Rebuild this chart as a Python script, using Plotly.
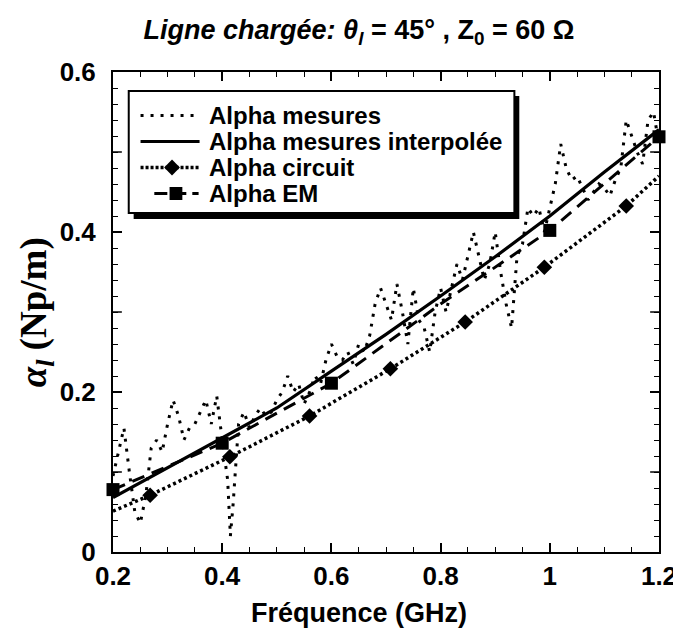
import plotly.graph_objects as go

# Alpha mesures (raw measurement, noisy)
f_mes = [0.20, 0.21, 0.22, 0.23, 0.24, 0.25, 0.26, 0.27, 0.28, 0.29,
         0.30, 0.31, 0.32, 0.33, 0.34, 0.35, 0.36, 0.37, 0.38, 0.39,
         0.40, 0.41, 0.415, 0.42, 0.43, 0.44, 0.45, 0.46, 0.47, 0.48,
         0.49, 0.50, 0.51, 0.52, 0.53, 0.54, 0.55, 0.56, 0.57, 0.58,
         0.59, 0.60, 0.61, 0.62, 0.63, 0.64, 0.65, 0.66, 0.67, 0.68,
         0.69, 0.70, 0.71, 0.72, 0.73, 0.74, 0.75, 0.76, 0.77, 0.78,
         0.79, 0.80, 0.81, 0.82, 0.83, 0.84, 0.85, 0.86, 0.87, 0.88,
         0.89, 0.90, 0.91, 0.92, 0.93, 0.94, 0.95, 0.96, 0.97, 0.98,
         0.99, 1.00, 1.01, 1.02, 1.03, 1.04, 1.05, 1.06, 1.07, 1.08,
         1.09, 1.10, 1.11, 1.12, 1.13, 1.14, 1.15, 1.16, 1.17, 1.18,
         1.19, 1.20]
a_mes = [0.095, 0.125, 0.155, 0.100, 0.050, 0.036, 0.070, 0.130, 0.140, 0.125,
         0.160, 0.190, 0.170, 0.140, 0.155, 0.160, 0.175, 0.190, 0.160, 0.195,
         0.140, 0.090, 0.020, 0.060, 0.160, 0.175, 0.155, 0.170, 0.180, 0.170,
         0.175, 0.190, 0.200, 0.220, 0.200, 0.210, 0.185, 0.200, 0.220, 0.210,
         0.240, 0.260, 0.245, 0.240, 0.250, 0.235, 0.260, 0.250, 0.270, 0.310,
         0.330, 0.310, 0.290, 0.335, 0.300, 0.260, 0.330, 0.290, 0.280, 0.250,
         0.300, 0.330, 0.300, 0.330, 0.360, 0.340, 0.370, 0.400, 0.370, 0.340,
         0.360, 0.400, 0.350, 0.310, 0.280, 0.370, 0.385, 0.430, 0.420, 0.430,
         0.400, 0.430, 0.460, 0.510, 0.480, 0.465, 0.470, 0.455, 0.440, 0.450,
         0.460, 0.455, 0.445, 0.465, 0.480, 0.540, 0.520, 0.500, 0.485, 0.540,
         0.550, 0.510]

# Alpha mesures interpolée
f_int = [0.2, 0.3, 0.4, 0.5, 0.6, 0.7, 0.8, 0.9, 1.0, 1.1, 1.2]
a_int = [0.068, 0.105, 0.142, 0.180, 0.226, 0.272, 0.320, 0.369, 0.420, 0.475, 0.528]

# Alpha circuit
f_cir = [0.2, 0.268, 0.414, 0.56, 0.708, 0.845, 0.99, 1.14, 1.2]
a_cir = [0.051, 0.071, 0.119, 0.170, 0.229, 0.2875, 0.356, 0.4325, 0.470]
cir_marker = [0, 12, 12, 12, 12, 12, 12, 12, 0]

# Alpha EM
f_em = [0.2, 0.4, 0.6, 0.8, 1.0, 1.2]
a_em = [0.078, 0.136, 0.211, 0.310, 0.402, 0.519]
em_marker = [13, 13, 13, 0, 13, 13]

legend_names = ["Alpha mesures", "Alpha mesures interpolée", "Alpha circuit", "Alpha EM"]
y_mid_ticks = [0.1, 0.3, 0.5]

W, H = 681, 628
L, R, T, B = 105, 21, 64, 84
pw, ph = W - L - R, H - T - B

def px(x):
    return (x - L) / pw

def py(y):
    return (H - B - y) / ph

sans = "Liberation Sans"

fig = go.Figure()
fig.add_trace(go.Scatter(
    x=f_mes, y=a_mes, mode="lines", name=legend_names[0],
    line=dict(color="black", width=3, dash="3px,7px")
))
fig.add_trace(go.Scatter(
    x=f_int, y=a_int, mode="lines", name=legend_names[1],
    line=dict(color="black", width=3.2)
))
fig.add_trace(go.Scatter(
    x=f_cir, y=a_cir, mode="lines+markers", name=legend_names[2],
    line=dict(color="black", width=3.5, dash="3px,3px"),
    marker=dict(symbol="diamond", size=cir_marker, color="black", opacity=1,
                line=dict(width=0)),
    cliponaxis=False
))
fig.add_trace(go.Scatter(
    x=f_em, y=a_em, mode="lines+markers", name=legend_names[3],
    line=dict(color="black", width=3, dash="13px,8px"),
    marker=dict(symbol="square", size=em_marker, color="black", opacity=1,
                line=dict(width=0)),
    cliponaxis=False
))

axis_common = dict(
    showline=True, linecolor="black", linewidth=2, mirror="allticks",
    ticks="inside", ticklen=9, tickwidth=1.5, tickcolor="black",
    showgrid=False, zeroline=False,
    tickfont=dict(family=sans, size=26, color="black", weight="bold"),
)

fig.update_xaxes(range=[0.2, 1.2], tickmode="linear", tick0=0.2, dtick=0.2,
                 ticklabelstandoff=0,
                 minor=dict(ticks="inside", dtick=0.05, ticklen=5,
                            tickwidth=1.2, tickcolor="black"),
                 **axis_common)
fig.update_yaxes(range=[0, 0.6], tickmode="linear", tick0=0, dtick=0.2,
                 ticklabelstandoff=10,
                 minor=dict(ticks="inside", dtick=0.02, ticklen=5,
                            tickwidth=1.2, tickcolor="black"),
                 **axis_common)

# longer unlabelled ticks at 0.1, 0.3, 0.5 on both sides
for yv in y_mid_ticks:
    for x0, x1 in [(0, 9 / pw), (1 - 9 / pw, 1)]:
        fig.add_shape(type="line", xref="paper", yref="y",
                      x0=x0, x1=x1, y0=yv, y1=yv,
                      line=dict(color="black", width=1.5), layer="above")

# hand-drawn legend box with drop shadow
bx0, bx1, by0, by1 = 121, 513, 83, 205
fig.add_shape(type="rect", xref="paper", yref="paper",
              x0=px(bx0 + 5), x1=px(bx1 + 5), y0=py(by1 + 6), y1=py(by0 + 5),
              fillcolor="black", line=dict(width=0), layer="above")
fig.add_shape(type="rect", xref="paper", yref="paper",
              x0=px(bx0), x1=px(bx1), y0=py(by1), y1=py(by0),
              fillcolor="white", line=dict(color="black", width=2), layer="above")

rows = [107.5, 133.5, 159.5, 185.5]
samples = [
    (133, 193, dict(color="black", width=3, dash="3px,7px")),
    (133, 193, dict(color="black", width=3.2)),
    (133, 193, dict(color="black", width=3.5, dash="3px,2px")),
    (147, 192, dict(color="black", width=3, dash="13px,6px")),
]
for (sx0, sx1, ln), ry in zip(samples, rows):
    fig.add_shape(type="line", xref="paper", yref="paper",
                  x0=px(sx0), x1=px(sx1), y0=py(ry), y1=py(ry),
                  line=ln, layer="above")

# diamond for "Alpha circuit"
cx, cy, d = 165, rows[2], 8
fig.add_shape(type="path", xref="paper", yref="paper", layer="above",
              path=f"M{px(cx)},{py(cy - d)} L{px(cx + d)},{py(cy)} "
                   f"L{px(cx)},{py(cy + d)} L{px(cx - d)},{py(cy)} Z",
              fillcolor="black", line=dict(width=0))
# square for "Alpha EM"
cx, cy, s = 169, rows[3], 6.5
fig.add_shape(type="rect", xref="paper", yref="paper", layer="above",
              x0=px(cx - s), x1=px(cx + s), y0=py(cy + s), y1=py(cy - s),
              fillcolor="black", line=dict(width=0))

for name, ry in zip(legend_names, rows):
    fig.add_annotation(text=name, xref="paper", yref="paper",
                       x=px(201), y=py(ry), showarrow=False,
                       xanchor="left", yanchor="middle",
                       font=dict(family=sans, size=24, color="black", weight="bold"))

fig.add_annotation(text="Fréquence (GHz)", xref="paper", yref="paper",
                   x=px(355), y=py(605), showarrow=False,
                   xanchor="center", yanchor="middle",
                   font=dict(family=sans, size=27, color="black", weight="bold"))
fig.add_annotation(text="<i>α</i><sub><i>l</i></sub> (Np/m)", xref="paper", yref="paper",
                   x=px(27), y=0.5, showarrow=False, textangle=-90,
                   xanchor="center", yanchor="middle",
                   font=dict(family="Liberation Serif", size=37, color="black", weight="bold"))

fig.update_layout(
    width=W, height=H,
    margin=dict(l=L, r=R, t=T, b=B),
    paper_bgcolor="white", plot_bgcolor="white",
    title=dict(text="<i>Ligne chargée: θ<sub>l</sub></i> = 45° , Z<sub>0</sub> = 60 Ω",
               x=351 / W, xanchor="center", y=1 - 22 / H, yanchor="middle",
               font=dict(family=sans, size=27, color="black", weight="bold")),
    showlegend=False,
)

fig.write_html("out.html")
